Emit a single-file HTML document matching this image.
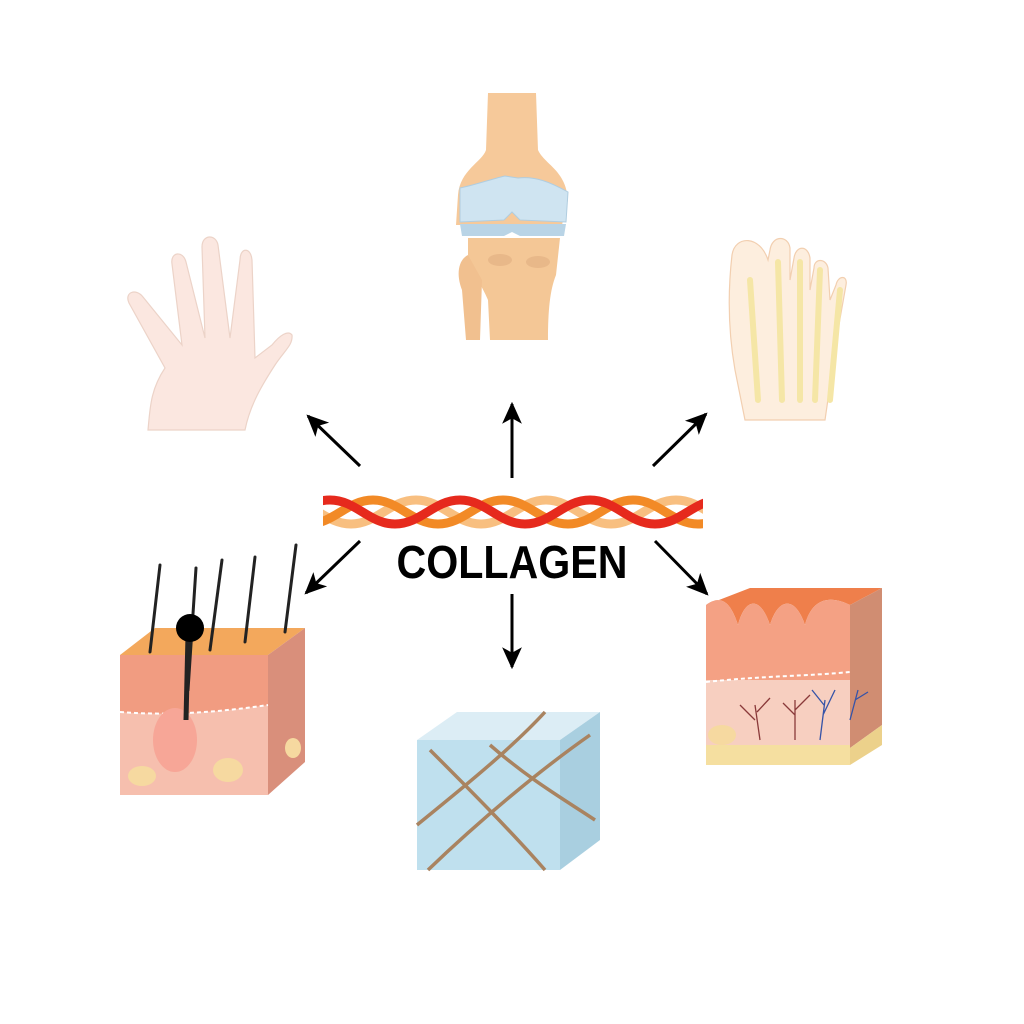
<!DOCTYPE html>
<html><head><meta charset="utf-8"><style>html,body{margin:0;padding:0;background:#fff}svg{display:block}</style></head>
<body>
<svg width="1024" height="1024" viewBox="0 0 1024 1024" xmlns="http://www.w3.org/2000/svg">
<defs>
<marker id="ah2" viewBox="0 0 20 20" markerWidth="22" markerHeight="22" refX="18" refY="10" orient="auto" markerUnits="userSpaceOnUse">
<path d="M0,1 L20,10 L0,19 L5,10 Z" fill="#000"/>
</marker>
<clipPath id="rc"><rect x="323" y="480" width="380" height="60"/></clipPath>
</defs>
<rect width="1024" height="1024" fill="#fff"/>

<!-- Knee -->
<path d="M488,93 L536,93 L538,150 C545,165 566,170 568,200 L562,225 L456,225 L458,195 C460,170 482,162 486,150 Z" fill="#f6c99a"/>
<path d="M460,188 C475,185 495,178 505,176 L518,178 C535,176 550,182 568,192 L566,222 L520,220 L512,212 L504,220 L460,222 Z" fill="#cfe4f1" stroke="#b0cde0" stroke-width="1"/>
<path d="M460,224 L566,224 L564,236 L520,236 L512,232 L504,236 L462,236 Z" fill="#b9d4e6"/>
<path d="M468,238 L560,238 L556,275 C550,290 548,310 548,340 L490,340 L488,300 C482,285 470,270 468,255 Z" fill="#f4c796"/>
<path d="M468,255 C458,260 456,275 462,290 L466,340 L480,340 L482,280 Z" fill="#f1c08f"/>
<ellipse cx="500" cy="260" rx="12" ry="6" fill="#dfae80" opacity=".6"/>
<ellipse cx="538" cy="262" rx="12" ry="6" fill="#dfae80" opacity=".6"/>

<!-- Hand -->
<path d="M148,430 L245,430 C250,405 262,385 275,365 C285,350 293,345 292,335 C288,330 280,335 272,345 L255,358 L252,260 C251,247 240,247 240,260 L230,338 L218,245 C216,234 202,234 202,247 L205,338 L186,262 C183,250 170,252 172,264 L182,345 L143,297 C136,288 124,292 129,303 L165,368 C150,390 150,410 148,430 Z" fill="#fbe7e0" stroke="#ecd3c8" stroke-width="1.2"/>

<!-- Foot -->
<path d="M745,420 L825,420 L838,330 L846,285 C848,275 838,275 836,285 L830,300 L828,268 C826,258 814,258 814,268 L810,290 L810,258 C808,245 796,245 794,258 L790,280 L790,248 C788,235 772,235 770,250 L768,260 C760,235 735,235 732,255 C728,290 728,330 735,370 Z" fill="#fdeede" stroke="#f2cfb0" stroke-width="1.2"/>
<g stroke="#f5e6a6" stroke-width="6" fill="none" stroke-linecap="round">
<path d="M750,280 L758,400"/><path d="M778,262 L782,400"/><path d="M800,262 L800,400"/><path d="M820,270 L815,400"/><path d="M840,290 L830,400"/>
</g>

<!-- Arrows -->
<g stroke="#000" stroke-width="3" marker-end="url(#ah2)">
<line x1="360" y1="466" x2="308" y2="416"/>
<line x1="512" y1="478" x2="512" y2="404"/>
<line x1="653" y1="466" x2="706" y2="414"/>
<line x1="360" y1="541" x2="306" y2="593"/>
<line x1="512" y1="594" x2="512" y2="667"/>
<line x1="655" y1="541" x2="707" y2="594"/>
</g>

<!-- Collagen rope -->
<g fill="none" stroke-linecap="round" stroke-width="9" clip-path="url(#rc)">
<path d="M156,500 C182,500 195,524 221,524 S260,500 286,500 S325,524 351,524 S390,500 416,500 S455,524 481,524 S520,500 546,500 S585,524 611,524 S650,500 676,500 S715,524 741,524" stroke="#f8bf80"/>
<path d="M113,500 C139,500 152,524 178,524 S217,500 243,500 S282,524 308,524 S347,500 373,500 S412,524 438,524 S477,500 503,500 S542,524 568,524 S607,500 633,500 S672,524 698,524 S737,500 763,500" stroke="#f28a26"/>
<path d="M200,500 C226,500 239,524 265,524 S304,500 330,500 S369,524 395,524 S434,500 460,500 S499,524 525,524 S564,500 590,500 S629,524 655,524 S694,500 720,500" stroke="#e62a1d"/>
</g>
<text x="512" y="578" text-anchor="middle" font-family="Liberation Sans, sans-serif" font-weight="bold" font-size="46" fill="#000" textLength="231" lengthAdjust="spacingAndGlyphs">COLLAGEN</text>

<!-- Left skin block -->
<path d="M120,655 L268,655 L305,628 L155,628 Z" fill="#f3a85c"/>
<path d="M268,655 L305,628 L305,762 L268,795 Z" fill="#d98f7b"/>
<rect x="120" y="655" width="148" height="140" fill="#f6bfae"/>
<path d="M120,655 L268,655 L268,705 C220,712 170,716 120,712 Z" fill="#f19c81"/>
<path d="M120,712 C170,716 220,712 268,705" stroke="#fff" stroke-width="2" stroke-dasharray="4 3" fill="none"/>
<ellipse cx="175" cy="740" rx="22" ry="32" fill="#f7a697"/>
<ellipse cx="228" cy="770" rx="15" ry="12" fill="#f6d9a0"/>
<ellipse cx="142" cy="776" rx="14" ry="10" fill="#f6d9a0"/>
<ellipse cx="293" cy="748" rx="8" ry="10" fill="#f6d9a0"/>
<g stroke="#222" stroke-width="3" stroke-linecap="round">
<line x1="150" y1="652" x2="160" y2="565"/><line x1="210" y1="650" x2="222" y2="560"/>
<line x1="245" y1="642" x2="255" y2="557"/><line x1="285" y1="632" x2="296" y2="545"/>
<line x1="188" y1="690" x2="196" y2="568"/>
</g>
<line x1="188" y1="635" x2="186" y2="720" stroke="#222" stroke-width="5"/>
<circle cx="190" cy="628" r="14" fill="#000"/>

<!-- Middle cube -->
<path d="M417,740 L560,740 L600,712 L457,712 Z" fill="#dcedf5"/>
<path d="M560,740 L600,712 L600,840 L560,870 Z" fill="#a9cfe0"/>
<rect x="417" y="740" width="143" height="130" fill="#bfe0ee"/>
<g stroke="#a98360" stroke-width="3.5" fill="none">
<path d="M430,750 C470,790 510,830 545,870"/><path d="M490,745 C530,780 565,800 595,820"/>
<path d="M417,825 C460,790 510,750 545,712"/><path d="M428,870 C480,820 540,770 590,735"/>
</g>

<!-- Right skin block -->
<path d="M706,605 C720,595 730,600 738,625 C745,598 760,595 770,625 C778,598 795,595 805,625 C812,598 830,595 850,605 L882,588 L750,588 Z" fill="#ef7f4b"/>
<path d="M850,605 L882,588 L882,725 L850,748 Z" fill="#d08d72"/>
<path d="M706,605 C720,595 730,600 738,625 C745,598 760,595 770,625 C778,598 795,595 805,625 C812,598 830,595 850,605 L850,680 L706,680 Z" fill="#f4a184"/>
<rect x="706" y="680" width="144" height="65" fill="#f7cfc0"/>
<rect x="706" y="745" width="144" height="20" fill="#f5dfa0"/>
<path d="M850,748 L882,725 L882,745 L850,765 Z" fill="#ecd18b"/>
<path d="M706,682 C760,676 810,676 850,672" stroke="#fff" stroke-width="2" stroke-dasharray="4 3" fill="none"/>
<g stroke="#8a3a3a" stroke-width="1.3" fill="none">
<path d="M760,740 L755,705 M755,720 L740,705 M757,712 L770,698"/>
<path d="M795,740 L795,700 M795,715 L783,703 M795,710 L810,695"/>
</g>
<g stroke="#3553a8" stroke-width="1.3" fill="none">
<path d="M820,740 L825,700 M823,715 L835,690 M824,705 L812,690"/>
<path d="M850,720 L858,690 M855,700 L868,692"/>
</g>
<ellipse cx="722" cy="735" rx="14" ry="10" fill="#f6d9a0"/>
</svg>
</body></html>
